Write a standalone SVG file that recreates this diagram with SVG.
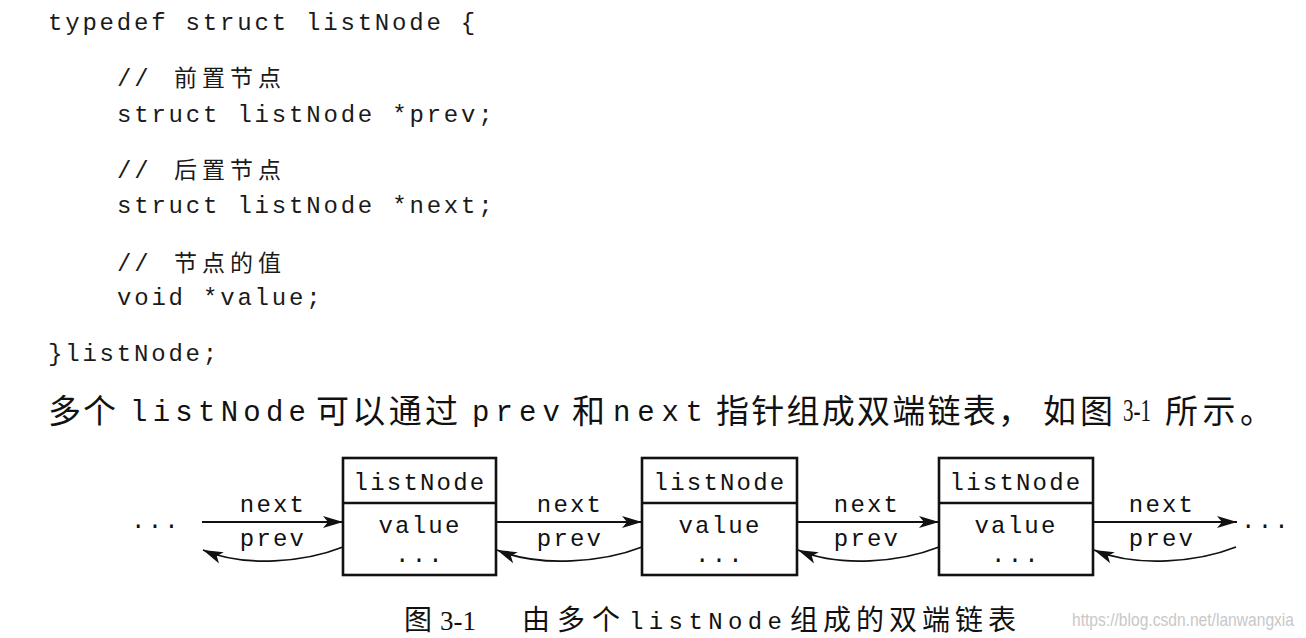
<svg xmlns="http://www.w3.org/2000/svg" width="1306" height="638" viewBox="0 0 1306 638">
<defs>
<style>
.code{font-family:"Liberation Mono","DejaVu Sans Mono",monospace;font-size:24px;letter-spacing:2.8px;fill:#1a1a1a}
.cmt{font-family:"Noto Sans CJK SC",sans-serif;font-size:23px;letter-spacing:5px;fill:#1a1a1a}
.cjk{font-family:"Noto Sans CJK SC",sans-serif;fill:#111}
.mono{font-family:"Liberation Mono","DejaVu Sans Mono",monospace;fill:#111}
.serif{font-family:"Liberation Serif",serif;fill:#111}
.lbl{font-family:"Liberation Mono","DejaVu Sans Mono",monospace;font-size:24px;letter-spacing:2.2px;fill:#111;text-anchor:middle}
.box{fill:#fff;stroke:#111;stroke-width:2.6}
.ln{fill:none;stroke:#111;stroke-width:1.8}
</style>
<marker id="ah" markerUnits="userSpaceOnUse" markerWidth="22" markerHeight="14" refX="20" refY="7" orient="auto">
<path d="M0,1 L20,7 L0,13 L5,7 z" fill="#111"/>
</marker>
</defs>
<rect width="1306" height="638" fill="#fff"/>

<g id="code">
<text class="code" x="48" y="30">typedef struct listNode {</text>
<text class="code" x="117" y="86">//</text>
<text class="cmt" x="174" y="86">前置节点</text>
<text class="code" x="117" y="122">struct listNode *prev;</text>
<text class="code" x="117" y="178">//</text>
<text class="cmt" x="174" y="178">后置节点</text>
<text class="code" x="117" y="213">struct listNode *next;</text>
<text class="code" x="117" y="271">//</text>
<text class="cmt" x="174" y="271">节点的值</text>
<text class="code" x="117" y="305">void *value;</text>
<text class="code" x="48" y="361">}listNode;</text>
</g>

<g id="paragraph">
<text class="cjk" x="48" y="423" font-size="33" textLength="68" lengthAdjust="spacing">多个</text>
<text class="mono" x="130" y="421" font-size="29" textLength="176" lengthAdjust="spacing">listNode</text>
<text class="cjk" x="316" y="423" font-size="33" textLength="142" lengthAdjust="spacing">可以通过</text>
<text class="mono" x="472" y="421" font-size="29" textLength="88" lengthAdjust="spacing">prev</text>
<text class="cjk" x="572" y="423" font-size="33">和</text>
<text class="mono" x="613" y="421" font-size="29" textLength="90" lengthAdjust="spacing">next</text>
<text class="cjk" x="716" y="423" font-size="33" textLength="315" lengthAdjust="spacing">指针组成双端链表，</text>
<text class="cjk" x="1043" y="423" font-size="33" textLength="70" lengthAdjust="spacing">如图</text>
<text class="serif" x="1123" y="421" font-size="32" textLength="28" lengthAdjust="spacingAndGlyphs">3-1</text>
<text class="cjk" x="1165" y="423" font-size="33" textLength="108" lengthAdjust="spacing">所示。</text>
</g>

<g id="node1">
<rect class="box" x="343" y="458" width="153" height="117"/>
<line class="box" x1="343" y1="503" x2="496" y2="503"/>
<text class="lbl" x="420" y="490">listNode</text>
<text class="lbl" x="420" y="533">value</text>
<text class="lbl" x="420" y="562">...</text>
</g>
<g id="node2">
<rect class="box" x="642" y="458" width="155" height="117"/>
<line class="box" x1="642" y1="503" x2="797" y2="503"/>
<text class="lbl" x="720" y="490">listNode</text>
<text class="lbl" x="720" y="533">value</text>
<text class="lbl" x="720" y="562">...</text>
</g>
<g id="node3">
<rect class="box" x="939" y="458" width="154" height="117"/>
<line class="box" x1="939" y1="503" x2="1093" y2="503"/>
<text class="lbl" x="1016" y="490">listNode</text>
<text class="lbl" x="1016" y="533">value</text>
<text class="lbl" x="1016" y="562">...</text>
</g>

<g id="ellipsis">
<text class="lbl" x="156" y="528">...</text>
<text class="lbl" x="1266" y="528">...</text>
</g>

<g id="connectors">
<line class="ln" x1="202" y1="522" x2="343" y2="522" marker-end="url(#ah)"/>
<line class="ln" x1="496" y1="522" x2="642" y2="522" marker-end="url(#ah)"/>
<line class="ln" x1="797" y1="522" x2="939" y2="522" marker-end="url(#ah)"/>
<line class="ln" x1="1093" y1="522" x2="1237" y2="522" marker-end="url(#ah)"/>
<path class="ln" d="M343,547 C305,562 245,568 203,550" marker-end="url(#ah)"/>
<path class="ln" d="M642,547 C604,562 540,568 497,550" marker-end="url(#ah)"/>
<path class="ln" d="M939,547 C901,562 840,568 798,550" marker-end="url(#ah)"/>
<path class="ln" d="M1236,547 C1198,562 1137,568 1094,550" marker-end="url(#ah)"/>
<text class="lbl" x="273" y="512">next</text>
<text class="lbl" x="273" y="546">prev</text>
<text class="lbl" x="570" y="512">next</text>
<text class="lbl" x="570" y="546">prev</text>
<text class="lbl" x="867" y="512">next</text>
<text class="lbl" x="867" y="546">prev</text>
<text class="lbl" x="1162" y="512">next</text>
<text class="lbl" x="1162" y="546">prev</text>
</g>

<g id="caption">
<text class="cjk" x="404" y="630" font-size="28">图</text>
<text class="serif" x="440" y="630" font-size="27">3-1</text>
<text class="cjk" x="522" y="630" font-size="28" textLength="98" lengthAdjust="spacing">由多个</text>
<text class="mono" x="629" y="629" font-size="24" textLength="153" lengthAdjust="spacing">listNode</text>
<text class="cjk" x="790" y="630" font-size="28" textLength="226" lengthAdjust="spacing">组成的双端链表</text>
<text x="1072" y="626" font-family="Liberation Sans Narrow,Liberation Sans,sans-serif" font-size="19" fill="#c8c8c8" textLength="222" lengthAdjust="spacingAndGlyphs">https://blog.csdn.net/lanwangxia</text>
</g>
</svg>
